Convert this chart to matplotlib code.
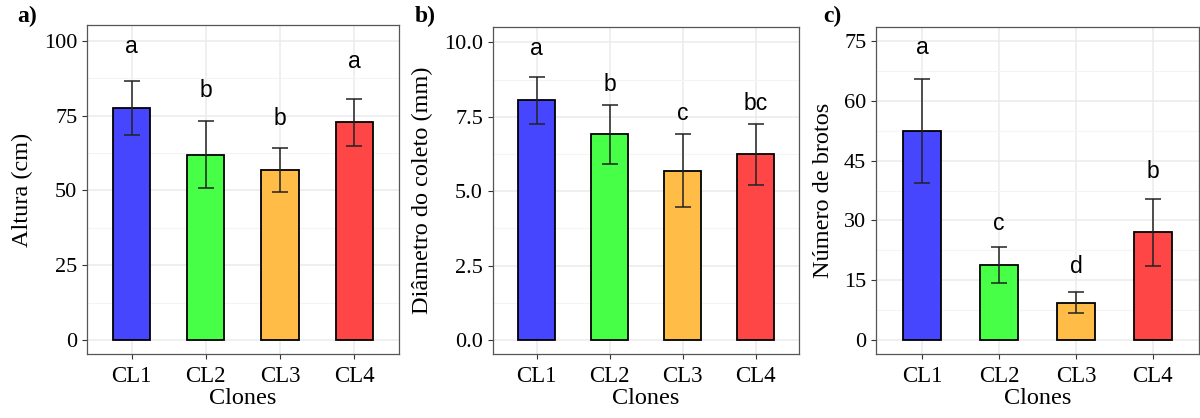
import matplotlib
matplotlib.use("Agg")
import matplotlib.pyplot as plt
from matplotlib.ticker import MultipleLocator

# === Data ===
clones = ["CL1", "CL2", "CL3", "CL4"]
bar_colors = ["#4646FF", "#46FF46", "#FFBC46", "#FF4646"]

altura = [77.5, 61.9, 56.9, 72.8]
altura_sd = [9.0, 11.2, 7.3, 7.9]
altura_letters = ["a", "b", "b", "a"]

diametro = [8.06, 6.91, 5.69, 6.24]
diametro_sd = [0.79, 0.99, 1.23, 1.02]
diametro_letters = ["a", "b", "c", "bc"]

brotos = [52.4, 18.8, 9.4, 27.0]
brotos_sd = [13.1, 4.6, 2.6, 8.4]
brotos_letters = ["a", "c", "d", "b"]

# letter heights
altura_lab_y = [98.0, 83.4, 74.1, 93.0]
diametro_lab_y = [9.81, 8.59, 7.60, 7.94]
brotos_lab_y = [73.3, 29.3, 18.4, 42.4]

# === Layout (pixels in the 1200x418 picture) ===
panels = [
    dict(tag="a)", tag_x=17, vals=altura, sd=altura_sd, letters=altura_letters, lab_y=altura_lab_y,
         ylabel="Altura (cm)", ylab_x=33, ylim=(-4.7, 105.3), yticks=[0, 25, 50, 75, 100], fmt="{:.0f}",
         minor=12.5, pos=[87, 25, 398.7, 354]),
    dict(tag="b)", tag_x=415, vals=diametro, sd=diametro_sd, letters=diametro_letters, lab_y=diametro_lab_y,
         ylabel="Diâmetro do coleto (mm)", ylab_x=433, ylim=(-0.47, 10.53), yticks=[0, 2.5, 5, 7.5, 10], fmt="{:.1f}",
         minor=1.25, pos=[492.7, 26.7, 799.3, 354]),
    dict(tag="c)", tag_x=823, vals=brotos, sd=brotos_sd, letters=brotos_letters, lab_y=brotos_lab_y,
         ylabel="Número de brotos", ylab_x=834, ylim=(-3.5, 78.6), yticks=[0, 15, 30, 45, 60, 75], fmt="{:.0f}",
         minor=7.5, pos=[876, 26.7, 1199, 354]),
]

W, H = 1200, 418
serif = ["Liberation Serif", "DejaVu Serif"]
sans = ["Liberation Sans", "DejaVu Sans"]

fig = plt.figure(figsize=(12, 4.18), dpi=100)

for p in panels:
    x0, y0, x1, y1 = p["pos"]
    ax = fig.add_axes([x0 / W, 1 - y1 / H, (x1 - x0) / W, (y1 - y0) / H])
    xs = range(1, len(clones) + 1)

    ax.set_axisbelow(True)
    ax.grid(True, which="major", color="#EBEBEB", lw=1.1)
    ax.yaxis.set_minor_locator(MultipleLocator(p["minor"]))
    ax.grid(True, which="minor", axis="y", color="#F4F4F4", lw=0.8)

    ax.bar(xs, p["vals"], width=0.5, color=bar_colors, edgecolor="black", lw=1.3, zorder=2)
    ax.errorbar(xs, p["vals"], yerr=p["sd"], fmt="none", ecolor="#222222",
                elinewidth=1.1, capsize=5.5, capthick=1.1, zorder=3)
    for x, y, t in zip(xs, p["lab_y"], p["letters"]):
        ax.text(x, y, t, ha="center", va="center", fontsize=16.5, family=sans)

    ax.set_xlim(0.4, 4.6)
    ax.set_ylim(*p["ylim"])
    ax.set_xticks(list(xs))
    ax.set_xticklabels(clones)
    ax.set_yticks(p["yticks"])
    ax.set_yticklabels([p["fmt"].format(v) for v in p["yticks"]])
    ax.tick_params(which="major", length=3.5, color="#333333", labelcolor="black", width=0.8)
    ax.tick_params(axis="x", labelsize=16.5, pad=5.5)
    ax.tick_params(axis="y", labelsize=16, pad=3.5)
    ax.tick_params(which="minor", length=0)
    for lab in ax.get_xticklabels() + ax.get_yticklabels():
        lab.set_family(serif)
    for s in ax.spines.values():
        s.set_color("#555555")
        s.set_linewidth(0.9)

    ax.set_xlabel("Clones", fontsize=17.5, family=serif)
    ax.xaxis.set_label_coords(0.5, (354 - 388) / (y1 - y0))
    ax.set_ylabel(p["ylabel"], fontsize=17.5, family=serif)
    ax.yaxis.set_label_coords((p["ylab_x"] - x0) / (x1 - x0), 0.5)

    fig.text(p["tag_x"] / W, 1 - 16 / H, p["tag"],
             fontsize=17, fontweight="bold", family=serif, ha="left", va="center")

fig.savefig("out.png", dpi=100)
